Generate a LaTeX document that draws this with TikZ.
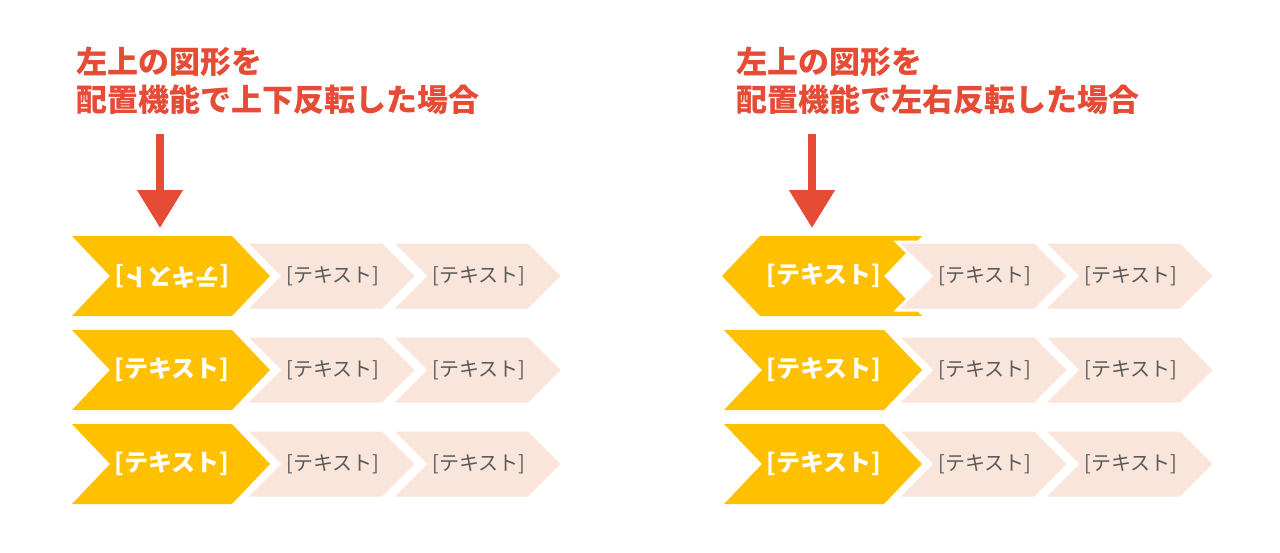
\documentclass[tikz,border=0pt]{standalone}
\usepackage{fontspec}
\newfontfamily\cjk{Noto Sans CJK JP}
\usetikzlibrary{arrows.meta}
\definecolor{headred}{HTML}{E64B35}
\definecolor{chevyellow}{HTML}{FFC000}
\definecolor{chevpink}{HTML}{FAE5DB}
\definecolor{chevtext}{HTML}{595959}

\begin{document}
\begin{tikzpicture}[x=1pt,y=-1pt,
    heading/.style={anchor=west,text=headred,font=\cjk\bfseries\fontsize{31}{36}\selectfont},
    bigtext/.style={text=white,font=\cjk\bfseries\fontsize{24}{28}\selectfont},
    smalltext/.style={text=chevtext,font=\cjk\fontsize{20}{24}\selectfont},
    pinkchev/.style={fill=chevpink,draw=white,line width=3pt,line join=miter},
    downarrow/.style={draw=headred,line width=8pt,-{Triangle[length=38pt,width=44pt]}}]
    \useasboundingbox (0,0) rectangle (1280,552);

    % Headings
    \node[heading] (hl1) at (73,62) {左上の図形を};
    \node[heading] (hl2) at (73,100) {配置機能で上下反転した場合};
    \node[heading] (hr1) at (733,62) {左上の図形を};
    \node[heading] (hr2) at (733,100) {配置機能で左右反転した場合};

    % Arrows
    \coordinate (al) at (160,134);
    \coordinate (alt) at (160,228);
    \coordinate (ar) at (812,134);
    \coordinate (art) at (812,228);
    \draw[downarrow] (al) -- (alt);
    \draw[downarrow] (ar) -- (art);

    % Left panel
    \foreach \y/\n in {276/1,370/2,464/3}{
        \fill[chevyellow] (72,\y-40) -- (232,\y-40) -- (270,\y) -- (232,\y+40) -- (72,\y+40) -- (110,\y) -- cycle;
        \foreach \x/\m in {245/a,391/b}{
            \draw[pinkchev] (\x,\y-34) -- (\x+138,\y-34) -- (\x+172,\y) -- (\x+138,\y+34) -- (\x,\y+34) -- (\x+34,\y) -- cycle;
            \node[smalltext] (l\n\m) at (\x+88,\y) {[テキスト]};
        }
    }
    \node[bigtext,rotate=180] (l1y) at (172,276) {[テキスト]};
    \node[bigtext] (l2y) at (172,370) {[テキスト]};
    \node[bigtext] (l3y) at (172,464) {[テキスト]};

    % Right panel
    \fill[chevyellow] (760,236) -- (922,236) -- (884,276) -- (922,316) -- (760,316) -- (722,276) -- cycle;
    \foreach \y/\n in {370/2,464/3}
        \fill[chevyellow] (724,\y-40) -- (884,\y-40) -- (922,\y) -- (884,\y+40) -- (724,\y+40) -- (762,\y) -- cycle;
    \foreach \y/\n in {276/1,370/2,464/3}{
        \foreach \x/\m in {897/a,1043/b}{
            \draw[pinkchev] (\x,\y-34) -- (\x+138,\y-34) -- (\x+172,\y) -- (\x+138,\y+34) -- (\x,\y+34) -- (\x+34,\y) -- cycle;
            \node[smalltext] (r\n\m) at (\x+88,\y) {[テキスト]};
        }
        \node[bigtext] (r\n y) at (824,\y) {[テキスト]};
    }
\end{tikzpicture}
\end{document}
